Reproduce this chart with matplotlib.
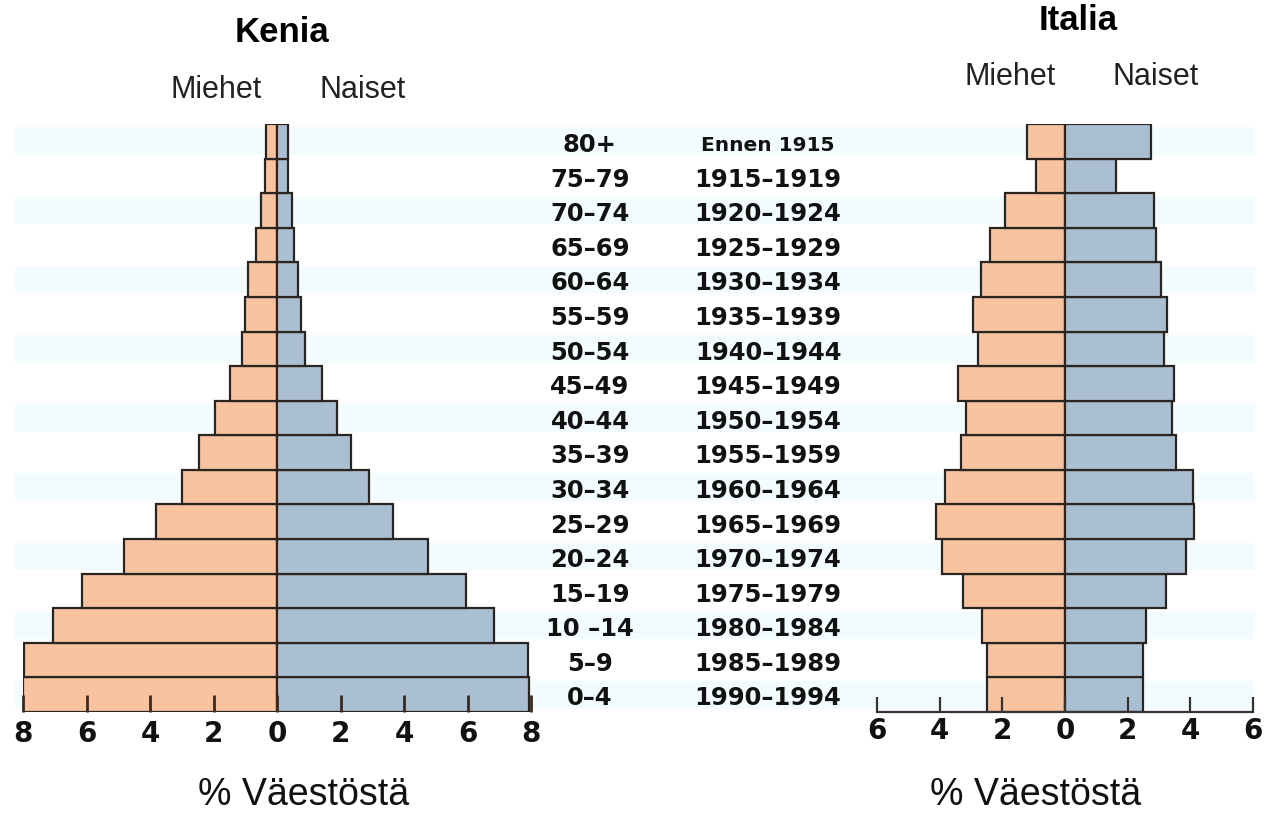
import matplotlib
matplotlib.use('Agg')
import matplotlib.pyplot as plt
from matplotlib.transforms import blended_transform_factory

# age groups, bottom to top
ages = ['0–4', '5–9', '10 –14', '15–19', '20–24', '25–29', '30–34', '35–39', '40–44',
        '45–49', '50–54', '55–59', '60–64', '65–69', '70–74', '75–79', '80+']
years = ['1990–1994', '1985–1989', '1980–1984', '1975–1979', '1970–1974', '1965–1969',
         '1960–1964', '1955–1959', '1950–1954', '1945–1949', '1940–1944', '1935–1939',
         '1930–1934', '1925–1929', '1920–1924', '1915–1919', 'Ennen 1915']

# % of population
kenia_men = [8.0, 7.97, 7.07, 6.14, 4.82, 3.8, 2.99, 2.47, 1.96, 1.47, 1.09, 1.01, 0.9, 0.65, 0.51, 0.38, 0.36]
kenia_women = [7.95, 7.92, 6.85, 5.95, 4.75, 3.66, 2.91, 2.34, 1.88, 1.41, 0.89, 0.76, 0.65, 0.52, 0.47, 0.36, 0.36]
italia_men = [2.5, 2.5, 2.66, 3.27, 3.94, 4.12, 3.83, 3.33, 3.16, 3.4, 2.77, 2.93, 2.69, 2.38, 1.91, 0.91, 1.22]
italia_women = [2.48, 2.48, 2.58, 3.23, 3.86, 4.12, 4.07, 3.54, 3.43, 3.48, 3.16, 3.27, 3.06, 2.91, 2.84, 1.63, 2.73]

W, H = 1267, 829
MEN = '#f9c3a0'
WOMEN = '#abbfd3'
EDGE = '#2a2520'
BAND = '#f2fbfd'

fig = plt.figure(figsize=(W / 100, H / 100), dpi=100)
fig.patch.set_facecolor('white')


def fx(px):
    return px / W


def fy(py):
    return 1 - py / H


top_px, bot_px = 125, 713
rows = list(range(len(ages)))

# faint stripes behind everything
bg = fig.add_axes([fx(15), fy(bot_px), fx(1255) - fx(15), (bot_px - top_px) / H])
bg.set_xlim(0, 1)
bg.set_ylim(-0.5, len(ages) - 0.5)
for r in rows:
    if r % 2 == 0:
        bg.axhspan(r - 0.4, r + 0.4, color=BAND, lw=0)
bg.axis('off')


def pyramid(ax, men, women, lim):
    ax.barh(rows, [-m for m in men], height=1.0, color=MEN, edgecolor=EDGE, linewidth=1.6)
    ax.barh(rows, women, height=1.0, color=WOMEN, edgecolor=EDGE, linewidth=1.6)
    ax.set_xlim(-lim, lim)
    ax.set_ylim(-0.5, len(ages) - 0.5)
    ax.patch.set_alpha(0)
    ax.set_yticks([])
    for s in ['left', 'right', 'top']:
        ax.spines[s].set_visible(False)
    ticks = list(range(-lim, lim + 1, 2))
    ax.set_xticks(ticks)
    ax.set_xticklabels([str(abs(t)) for t in ticks], fontsize=20, fontweight='bold',
                       family='DejaVu Sans', color='#111111')


axk = fig.add_axes([fx(23), fy(bot_px), fx(531) - fx(23), (bot_px - top_px) / H])
pyramid(axk, kenia_men, kenia_women, 8)
axk.spines['bottom'].set_visible(False)
axk.tick_params(axis='x', direction='in', length=12, width=2, color='#3a2a20', pad=5)

axi = fig.add_axes([fx(877), fy(bot_px), fx(1253) - fx(877), (bot_px - top_px) / H])
pyramid(axi, italia_men, italia_women, 6)
axi.spines['bottom'].set_linewidth(1.6)
axi.spines['bottom'].set_color('#333333')
axi.tick_params(axis='x', direction='in', length=11, width=1.6, color='#333333', pad=3)

# middle label columns
tr = blended_transform_factory(fig.transFigure, axk.transData)
for r, a, y in zip(rows, ages, years):
    fig.text(fx(590), r - 0.08, a, transform=tr, ha='center', va='center',
             fontsize=17.5, fontweight='bold', family='DejaVu Sans', color='#111111')
    fig.text(fx(768), r - 0.08, y, transform=tr, ha='center', va='center',
             fontsize=14.5 if y.startswith('Ennen') else 17.5, fontweight='bold',
             family='DejaVu Sans', color='#111111')

# titles and headings
fig.text(fx(282), fy(32), 'Kenia', ha='center', va='center', fontsize=25,
         fontweight='bold', family='Liberation Sans')
fig.text(fx(1078), fy(20), 'Italia', ha='center', va='center', fontsize=25,
         fontweight='bold', family='Liberation Sans')
for x, t, y in [(216, 'Miehet', 90), (363, 'Naiset', 90), (1010, 'Miehet', 77), (1156, 'Naiset', 77)]:
    fig.text(fx(x), fy(y), t, ha='center', va='center', fontsize=22,
             family='Liberation Sans', color='#222222')
fig.text(fx(304), fy(795), '% Väestöstä', ha='center', va='center', fontsize=27,
         family='Liberation Sans', color='#111111')
fig.text(fx(1036), fy(795), '% Väestöstä', ha='center', va='center', fontsize=27,
         family='Liberation Sans', color='#111111')

fig.savefig('out.png', dpi=100)
